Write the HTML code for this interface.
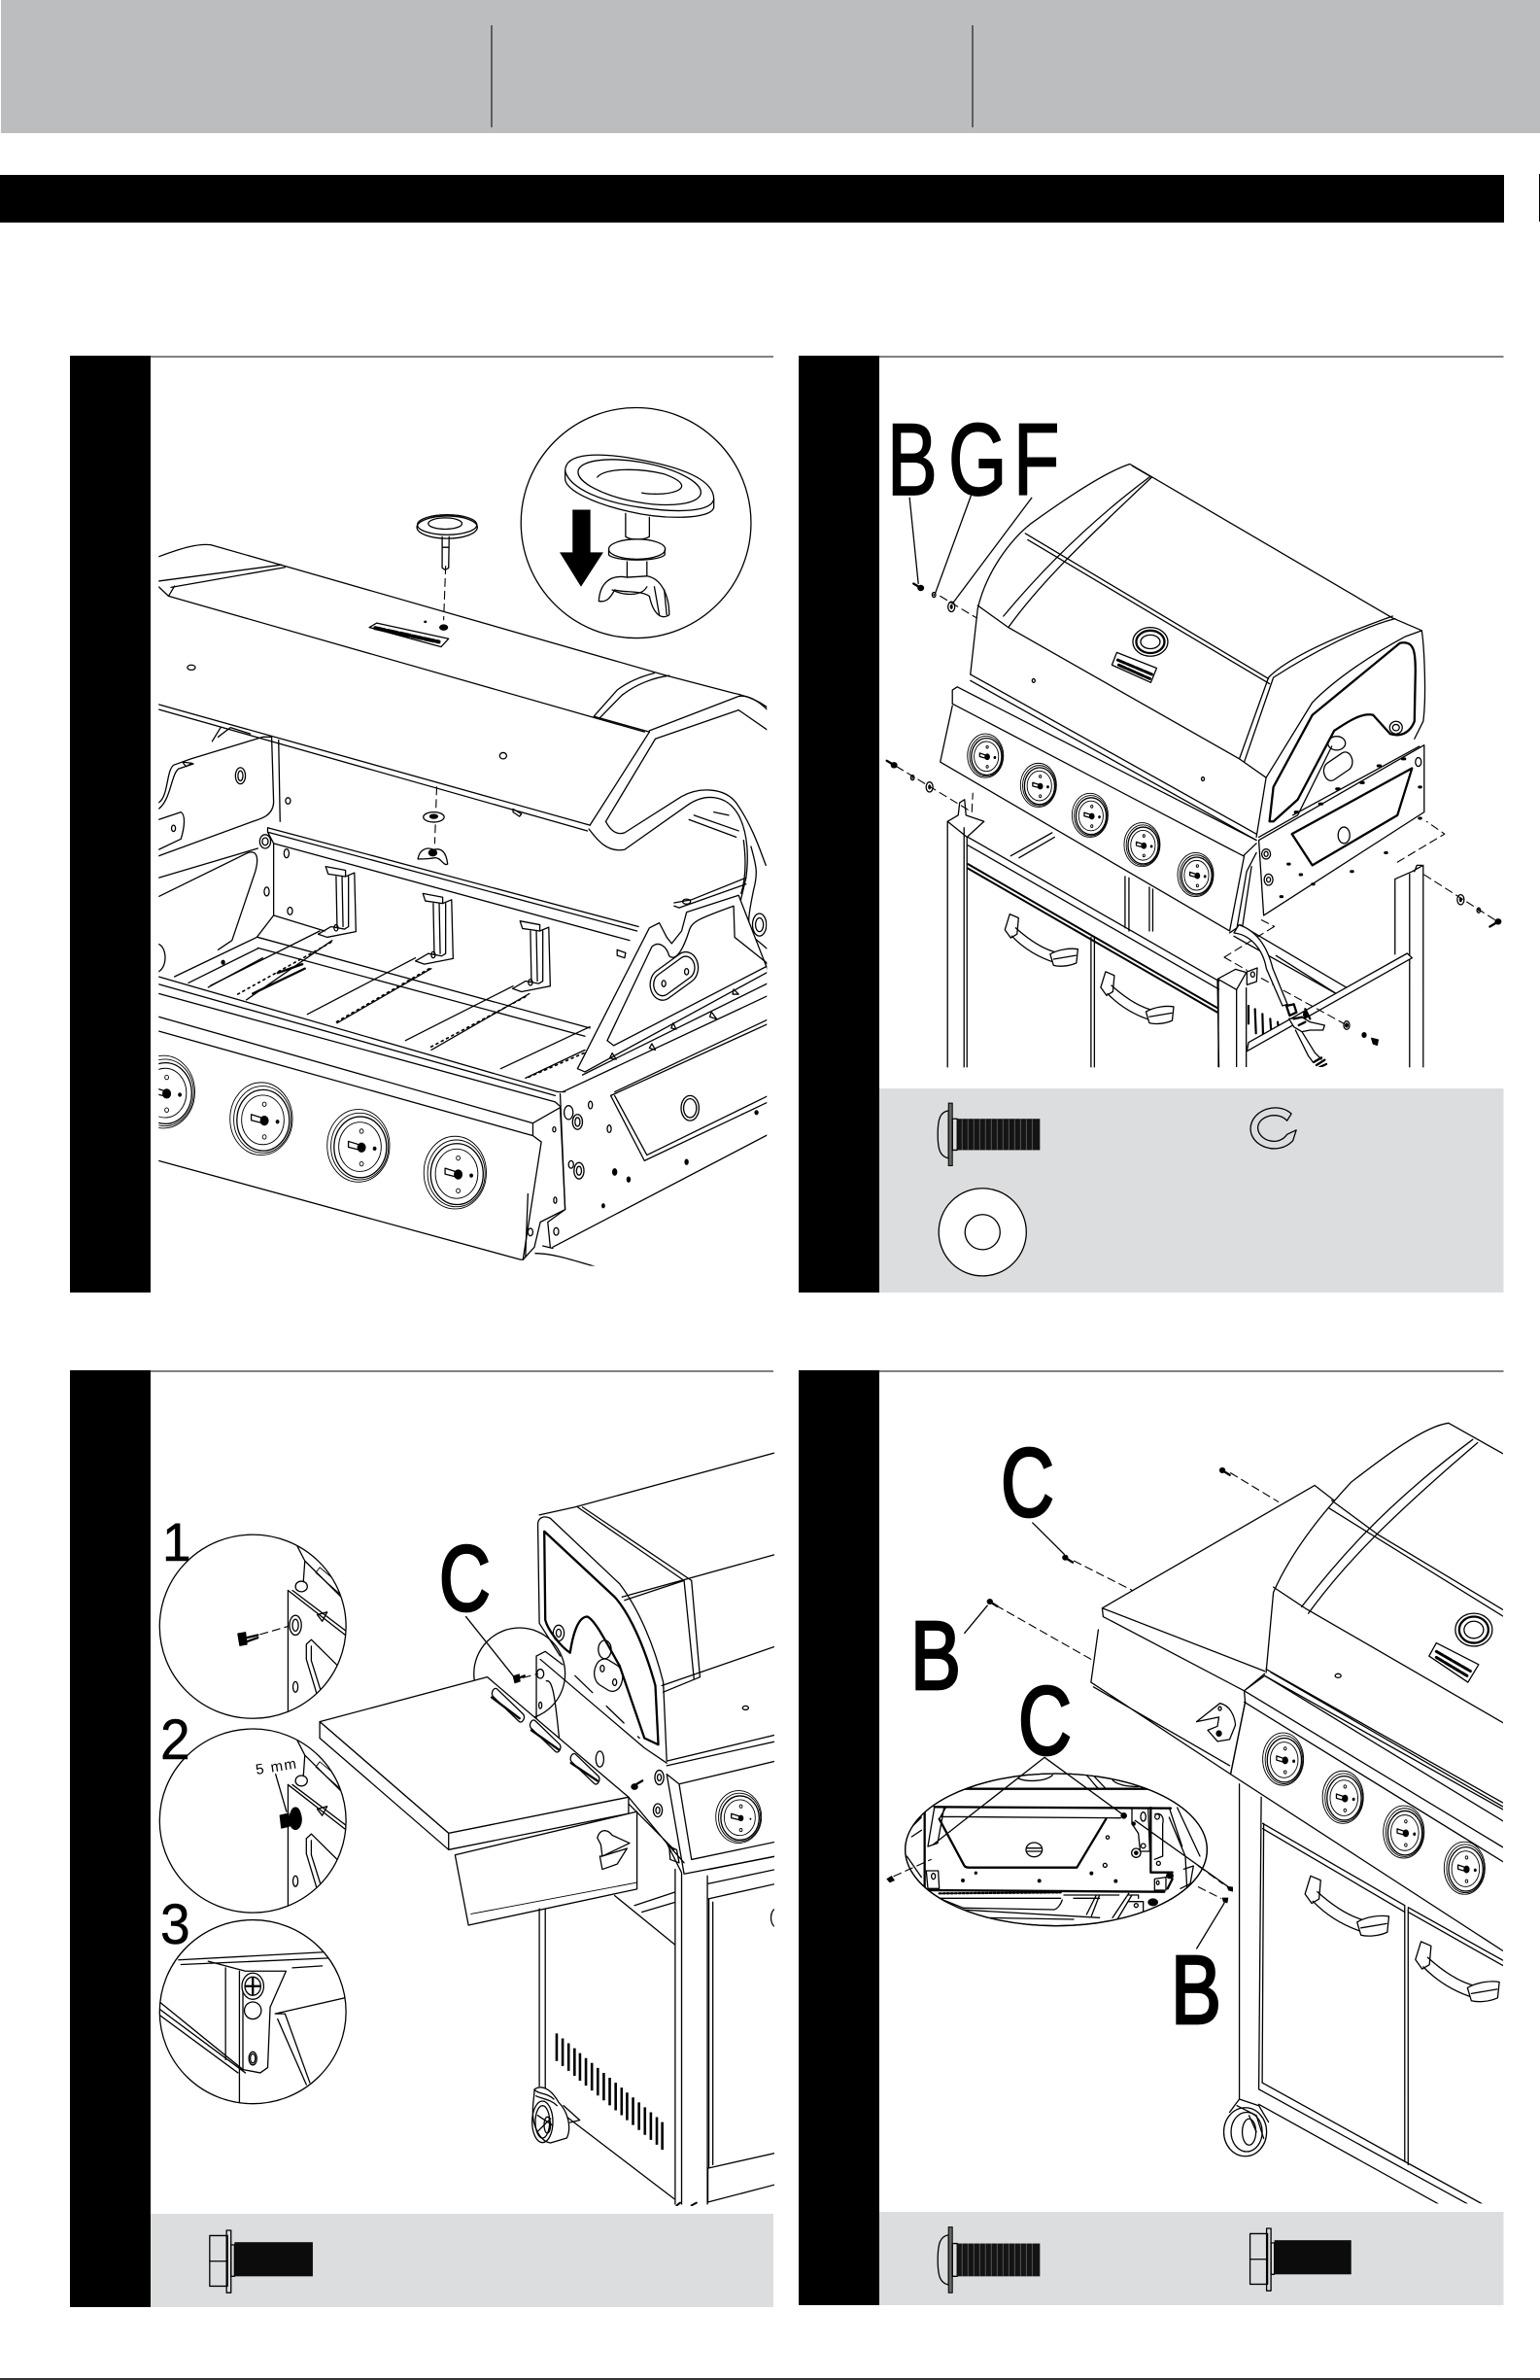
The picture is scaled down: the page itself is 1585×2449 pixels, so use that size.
<!DOCTYPE html>
<html><head><meta charset="utf-8"><title>Grill assembly diagram</title>
<style>
html,body{margin:0;padding:0;background:#fff}
svg{display:block}
svg *{vector-effect:non-scaling-stroke}
.l{fill:none;stroke:#000;stroke-width:1.3;stroke-linejoin:round;stroke-linecap:round}
.t{stroke-width:.9}
.h{stroke-width:2.3}
.d{stroke-dasharray:8 5;stroke-width:1.1}
.w{fill:#fff}
.k{fill:#000}
text{font-family:"Liberation Sans",sans-serif;fill:#000;stroke:#000}
text.n{stroke:none}
</style></head><body>
<svg xmlns="http://www.w3.org/2000/svg" width="1585" height="2449" viewBox="0 0 1585 2449">
<defs>
<g id="knob">
<ellipse class="l w t" cx="0" cy="0" rx="100" ry="100"/>
<ellipse class="l t" cx="4" cy="2" rx="92" ry="92"/>
<ellipse class="l" cx="6" cy="4" rx="84" ry="84"/>
<ellipse class="l t" cx="5" cy="3" rx="68" ry="68"/>
<circle class="k" cx="10" cy="5" r="12"/>
<path class="l" d="M-32 -12 L5 -2 L5 12 L-32 4 Z"/>
<ellipse class="l t" cx="10" cy="-40" rx="6" ry="6"/><ellipse class="l t" cx="10" cy="50" rx="6" ry="6"/><ellipse class="k" cx="52" cy="8" rx="4" ry="4"/>
</g>
<g id="bracket" class="l">
<path d="M657 872 L697 878 L697 888 L662 884 Z"/>
<path d="M678 888 L680 968 M690 888 L692 968 M697 888 L715 882 L718 976 L660 985 L642 980 L668 968 L695 972 L703 968 L703 888"/>
<ellipse cx="678" cy="970" rx="4" ry="5"/>
</g>
<g id="sc"><ellipse class="k" cx="0" cy="0" rx="7" ry="5"/><path class="l h" d="M4 2 L17 8"/></g>
<g id="scr"><ellipse class="k" cx="0" cy="0" rx="7" ry="5"/><path class="l h" d="M-4 -2 L-15 -7"/></g>
<g id="wsh"><ellipse class="l" cx="0" cy="0" rx="7" ry="8"/><ellipse class="k" cx="0" cy="0" rx="3" ry="4"/></g>
<g id="pan">
<path class="l" d="M22 12 C5 14 0 25 0 50 C0 75 5 85 22 88 Z"/>
<rect x="22" y="0" width="8" height="100" fill="#666" stroke="#000"/>
<rect x="30" y="25" width="10" height="50" class="l"/>
<rect x="40" y="25" width="170" height="50" fill="#141414"/>
<path d="M50 25V75M62 25V75M74 25V75M86 25V75M98 25V75M110 25V75M122 25V75M134 25V75M146 25V75M158 25V75M170 25V75M182 25V75M194 25V75" stroke="#666" stroke-width=".8" fill="none"/>
</g>
<g id="hex">
<rect x="0" y="8" width="36" height="77" class="l"/>
<path class="l" d="M0 47H36"/>
<rect x="34" y="0" width="9" height="95" class="l" fill="#dcddde"/>
<rect x="43" y="22" width="7" height="48" class="l"/>
<rect x="50" y="18" width="158" height="52" fill="#0c0c0c"/>
</g>
<g id="handle" class="l">
<path class="w" d="M0 25 L10 0 L28 6 L25 32 L12 38 Z"/>
<path d="M14 35 C45 60 80 72 105 78 M22 22 C55 45 85 58 110 62"/>
<path class="w" d="M93 64 C110 56 135 54 150 56 L147 78 C130 84 110 84 100 82 Z"/>
<path d="M100 72 L146 66"/>
</g>
<g id="insetC">
<path class="l" d="M581 365 L581 565"/>
<path class="l" d="M581 365 L700 435 M590 365 L700 428"/>
<path class="l" d="M600 298 L615 320 L695 380 M615 320 L612 352"/>
<path class="l t" d="M637 338 L688 372 L680 352 L645 330 Z"/>
<ellipse class="l" cx="608" cy="359" rx="12" ry="8"/>
<ellipse class="l" cx="596" cy="418" rx="12" ry="15"/><ellipse class="l" cx="596" cy="418" rx="6" ry="9"/>
<ellipse class="l" cx="596" cy="512" rx="5" ry="8"/>
<path class="l" d="M640 402 L660 398 L650 412 Z"/>
<path class="l" d="M618 447 L628 440 L695 490 M618 447 L618 470 L640 525 M628 450 L628 472 L648 520"/>
</g>
<clipPath id="ci1"><ellipse cx="510" cy="420" rx="188" ry="140"/></clipPath>
<clipPath id="ci2"><ellipse cx="510" cy="716" rx="188" ry="140"/></clipPath>
<clipPath id="ci3"><ellipse cx="510" cy="1007" rx="188" ry="140"/></clipPath>
<clipPath id="ca"><rect x="320" y="100" width="1227" height="1410"/></clipPath>
<clipPath id="cb"><rect x="200" y="100" width="1300" height="1093"/></clipPath>
<clipPath id="cc"><rect x="200" y="100" width="1362" height="1203"/></clipPath>
<clipPath id="cd"><rect x="200" y="100" width="1292" height="1199"/></clipPath>
<clipPath id="cdi"><ellipse cx="546" cy="280" rx="466" ry="235"/></clipPath>
<clipPath id="chose"><rect x="0" y="0" width="800" height="534"/></clipPath>
</defs>

<rect width="1585" height="2449" fill="#fff"/>
<!-- header -->
<rect x="1" y="0" width="1584" height="137" fill="#bcbdbf"/>
<rect x="505.500" y="26" width="1" height="105" fill="#000"/>
<rect x="1000.500" y="26" width="1" height="105" fill="#000"/>
<rect x="0" y="180" width="1548" height="49" fill="#000"/>
<rect x="1584" y="179" width="1" height="49" fill="#000"/>
<rect x="0" y="2447" width="1585" height="2" fill="#333"/>

<!-- frames -->
<rect x="72" y="366" width="83" height="964" fill="#000"/>
<rect x="155" y="366.500" width="641" height="1" fill="#000"/>
<rect x="822" y="366" width="83" height="964" fill="#000"/>
<rect x="905" y="366.500" width="642.500" height="1" fill="#000"/>
<rect x="905" y="1120" width="642.500" height="210" fill="#dcddde"/>
<rect x="72" y="1410" width="83" height="964" fill="#000"/>
<rect x="155" y="1410.500" width="641" height="1" fill="#000"/>
<rect x="155" y="2278" width="641" height="96" fill="#dcddde"/>
<rect x="822" y="1410" width="83" height="962" fill="#000"/>
<rect x="905" y="1410.500" width="642.500" height="1" fill="#000"/>
<rect x="905" y="2276" width="642.500" height="96" fill="#dcddde"/>

<!-- PANEL A -->
<g transform="translate(0,330) scale(.5102,.6441)">
<g clip-path="url(#ca)">
<g class="l">
<path d="M320 377 C370 362 400 356 425 358 L575 392 L1345 567 L1480 595 C1510 600 1530 607 1552 620"/>
<path d="M320 416 L568 390 M345 426 L575 394"/>
<path d="M320 425 L340 440 L1300 657 M340 440 L352 424"/>
<path d="M1198 632 L1245 590 C1270 575 1295 568 1320 563 M1208 636 L1255 598 C1285 580 1320 570 1350 567 M1198 632 L1310 657"/>
<path d="M320 613 L1190 806 M320 621 L1185 815"/>
<path d="M1310 657 L1190 806"/>
<path d="M1310 655 L1490 600 C1510 597 1535 610 1552 625"/>
<path d="M1222 800 L1322 668 L1490 622 L1550 655"/>
<path d="M1222 800 C1232 815 1245 822 1260 818 L1375 760 C1410 745 1460 745 1485 770 C1520 810 1535 850 1545 870"/>
<path d="M1188 812 C1205 830 1225 850 1260 845 L1385 775 C1420 755 1465 755 1490 790 C1510 820 1510 860 1505 890 L1490 940 C1485 965 1500 985 1550 1030"/>
<path d="M1400 790 L1490 815 M1390 797 L1485 825 M1440 785 L1470 790"/>
<path d="M1500 830 C1505 860 1505 890 1495 915 M1515 840 C1525 870 1530 880 1520 910 C1510 950 1505 965 1520 985 L1550 1005"/>
<ellipse cx="1532" cy="965" rx="14" ry="18"/><ellipse cx="1532" cy="965" rx="8" ry="11"/>
<ellipse cx="386" cy="554" rx="8" ry="4"/><ellipse cx="1015" cy="695" rx="7" ry="5"/>
<path d="M1035 780 L1052 788 L1048 792 L1035 785Z"/>
<ellipse class="w" cx="902" cy="330" rx="61" ry="18"/>
<ellipse cx="902" cy="326" rx="60" ry="16"/>
<ellipse cx="898" cy="324" rx="34" ry="9"/>
<path d="M892 345 L892 395 L898 398 L905 395 L906 345 M892 362 L906 362"/>
<path class="d" d="M899 392 L895 478"/>
<path class="d" d="M881 745 L877 835"/>
<ellipse class="w" cx="875" cy="793" rx="21" ry="8"/><ellipse class="k" cx="875" cy="792" rx="8" ry="3"/>
<path class="w" d="M843 860 C846 845 860 840 875 845 C890 842 900 848 903 868 C895 872 890 858 878 858 C865 860 850 860 843 860Z"/>
<ellipse class="k" cx="873" cy="850" rx="8" ry="5"/>
<path d="M745 490 L760 483 L905 508 L890 521 Z"/>
<path d="M757 491 L885 513" stroke-width="4" stroke-dasharray="10 3"/>
<ellipse cx="1283" cy="323" rx="232" ry="184"/>
<path class="w" d="M1140 240 C1140 210 1210 210 1290 222 C1380 235 1440 255 1440 285 L1440 298 C1435 318 1340 318 1270 305 C1195 292 1140 270 1140 252 Z"/>
<path d="M1140 240 C1150 270 1220 290 1290 298 C1370 308 1435 305 1440 285"/>
<ellipse cx="1290" cy="258" rx="125" ry="32" transform="rotate(8 1290 258)"/>
<path d="M1205 250 C1220 235 1290 235 1340 245 C1375 255 1385 265 1365 272 C1340 280 1300 276 1295 275"/>
<path class="w" d="M1262 308 L1262 345 C1275 352 1300 350 1310 345 L1310 314"/>
<ellipse class="w" cx="1285" cy="365" rx="57" ry="16"/><path d="M1228 366 L1228 374 C1240 385 1330 385 1341 374 L1341 366"/>
<path class="w" d="M1265 385 L1265 410 L1305 410 L1305 385"/>
<path class="w" d="M1208 448 C1210 420 1230 405 1265 410 L1305 408 C1335 412 1350 440 1350 470 C1335 478 1318 470 1310 440 C1290 430 1260 435 1240 430 C1230 445 1222 450 1208 448Z"/>
<path d="M1320 425 L1330 470 M1340 430 L1345 470 M1235 430 C1260 440 1295 440 1305 425"/>
<path d="M320 770 C340 760 335 720 350 710 L385 700 L530 665 L548 665 L552 770 C550 790 530 795 510 800 L320 855"/>
<path d="M320 780 C345 765 345 725 360 716 L390 708"/>
<path d="M428 672 L445 650 M440 665 L465 650 L505 660"/>
<path d="M368 705 L388 707 L375 712 Z"/>
<ellipse cx="485" cy="727" rx="10" ry="13"/><ellipse cx="485" cy="727" rx="5" ry="8"/>
<path d="M320 797 L365 785 C375 790 372 810 365 828 L320 845"/>
<ellipse cx="350" cy="811" rx="4" ry="5"/>
<path d="M320 890 L520 843 M320 920 L500 850 C520 845 522 860 515 880 L468 990 L440 1005"/>
<path d="M320 996 C335 1000 340 1030 320 1040"/>
<path d="M562 670 L565 800"/>
<circle cx="535" cy="832" r="11"/><circle cx="535" cy="832" r="6"/>
<ellipse cx="581" cy="767" rx="5" ry="5"/>
<path d="M540 810 L1288 968 M540 817 L1285 975 M552 835 L1270 990 M540 810 L540 817 L552 835"/>
<path d="M552 835 L552 950 L518 985 L352 1048 M552 950 L655 975"/>
<path d="M380 1058 L520 1003 M420 1065 L530 1018"/>
<ellipse cx="578" cy="851" rx="5" ry="7"/><ellipse cx="538" cy="912" rx="5" ry="7"/><ellipse cx="585" cy="943" rx="5" ry="6"/>
<ellipse class="k" cx="450" cy="1025" rx="3" ry="3"/>
<path d="M520 985 L1190 1130 M520 1002 L1180 1143"/>
<path class="h" d="M560 1042 L610 1028 M510 1075 L615 1035"/>
<path d="M645 975 L425 1062 M670 990 L497 1085"/>
<path d="M838 1018 L620 1108 M870 1035 L680 1122"/>
<path d="M1035 1063 L818 1150 M1068 1075 L870 1165"/>
<path d="M1190 1128 L1010 1195 M1180 1165 L1060 1210"/>
<path d="M668 993 L475 1078 M866 1035 L675 1122 M1060 1080 L865 1162 M1178 1170 L1062 1210" stroke-dasharray="2 4" stroke-width="1.6"/>
<use href="#bracket"/>
<use href="#bracket" transform="translate(196,43)"/>
<use href="#bracket" transform="translate(392,87)"/>
<path d="M1245 1005 L1262 1010 L1260 1018 L1245 1014 Z"/>
<path class="w" d="M1165 1195 L1310 970 L1330 962 L1345 985 L1355 995 L1375 975 L1385 945 L1490 918 L1550 1040 L1180 1200 Z"/>
<path d="M1225 1150 L1315 1000 C1330 990 1345 1000 1350 1015 C1365 1025 1380 1000 1390 975 C1395 960 1410 955 1480 935 L1482 985 L1550 1028"/>
<path d="M1225 1150 L1238 1158 L1550 1030"/>
<path d="M1360 930 L1395 925 L1505 890 M1360 935 L1370 938 L1505 900"/>
<ellipse cx="1385" cy="928" rx="8" ry="4"/>
<g transform="rotate(-30 1360 1047)"><rect x="1308" y="1022" width="104" height="50" rx="25" ry="25"/><rect x="1315" y="1029" width="90" height="36" rx="18" ry="18"/></g>
<ellipse cx="1339" cy="1059" rx="4" ry="5"/><ellipse cx="1385" cy="1040" rx="4" ry="5"/>
<path d="M1175 1205 L1550 1058 M1315 1155 L1322 1165 L1310 1162 Z M1358 1122 L1364 1132 L1354 1130Z M1435 1104 L1446 1116 L1432 1112 Z M1480 1068 L1490 1076 L1478 1076Z M1235 1170 L1243 1180 L1230 1178Z"/>
<path d="M1135 1232 L1550 1078"/>
<path d="M1232 1238 L1550 1123 M1240 1232 L1550 1116"/>
<path d="M1232 1238 L1300 1342 L1550 1248 M1240 1238 L1305 1333 L1550 1238"/>
<ellipse cx="1392" cy="1258" rx="18" ry="20"/><ellipse cx="1392" cy="1258" rx="13" ry="15"/>
<path d="M1115 1480 L1550 1300"/>
<path d="M1130 1235 L1140 1420 L1105 1440 L1110 1480"/>
<ellipse cx="1147" cy="1265" rx="9" ry="11"/><ellipse cx="1165" cy="1280" rx="10" ry="12"/><ellipse cx="1165" cy="1280" rx="5" ry="7"/>
<ellipse cx="1168" cy="1358" rx="10" ry="13"/><ellipse cx="1168" cy="1358" rx="5" ry="7"/>
<ellipse cx="1152" cy="1348" rx="5" ry="6"/><ellipse cx="1191" cy="1253" rx="4" ry="6"/><ellipse cx="1229" cy="1291" rx="4" ry="6"/>
<ellipse class="k" cx="1240" cy="1360" rx="4" ry="5"/><ellipse class="k" cx="1268" cy="1372" rx="3" ry="4"/><ellipse class="k" cx="1217" cy="1414" rx="2.500" ry="3"/>
<ellipse class="k" cx="1385" cy="1344" rx="3" ry="4"/><ellipse class="k" cx="1526" cy="1265" rx="3" ry="3"/>
<path d="M320 1048 L1125 1232 L1140 1232 M320 1060 L1120 1238 M320 1075 L1120 1248 L1130 1255"/>
<path d="M320 1112 L1075 1282 L1130 1257 M320 1135 L1075 1302 L1092 1312 L1055 1500 M1075 1282 L1075 1302"/>
<path d="M320 1342 L1050 1500 L1055 1500"/>
<path d="M1130 1257 L1140 1420 L1090 1440 L1078 1480 L1055 1500"/>
<path d="M1065 1395 L1060 1495"/>
<ellipse cx="1118" cy="1292" rx="3" ry="4"/><ellipse cx="1120" cy="1405" rx="3" ry="5"/><ellipse cx="1070" cy="1456" rx="5" ry="6"/><ellipse cx="1122" cy="1455" rx="5" ry="6"/>
<path d="M1080 1490 C1120 1490 1170 1505 1205 1512 M1095 1478 L1115 1482"/>
<use href="#knob" transform="translate(330,1232) scale(.63,.58)"/>
<use href="#knob" transform="translate(527,1275) scale(.63,.58)"/>
<use href="#knob" transform="translate(723,1318) scale(.63,.58)"/>
<use href="#knob" transform="translate(918,1361) scale(.63,.58)"/>
</g>
<path d="M1155 302 H1191 V370 H1217 L1172 425 L1129 370 H1155 Z" fill="#000"/>
<ellipse cx="895" cy="490" rx="9" ry="5" fill="#000"/><ellipse cx="858" cy="481" rx="3" ry="2" fill="#000"/>
</g>
</g>

<!-- PANEL B -->
<g transform="translate(800,330) scale(.5006,.6441)">
<g clip-path="url(#cb)">
<g class="l">
<path d="M397 565 L412 460 C430 400 480 350 520 325 C600 280 680 240 725 229 L1265 475 L1325 495 C1330 520 1335 600 1328 640 L1310 668"/>
<path d="M510 340 L1010 572 M515 350 L1012 580"/>
<path d="M465 472 C510 430 610 340 765 250 M475 490 C540 420 620 360 770 250 M730 232 L770 250"/>
<path d="M412 455 L475 490 L950 700 L1005 730"/>
<path d="M950 700 L1010 570 C1060 530 1200 490 1265 472 M960 705 L1020 570 C1100 530 1200 490 1270 476"/>
<path d="M397 565 L985 820 M397 575 L985 830"/>
<path d="M1005 730 L985 825"/>
<path d="M1005 730 L1100 610 C1150 570 1230 530 1290 505 L1325 495"/>
<path class="h" d="M1012 800 L1020 745 L1100 630 L1280 515 C1310 510 1312 530 1312 560 L1310 640 C1300 660 1280 665 1260 660 L1225 630 C1200 625 1165 645 1145 655 L1070 765 L1020 800 Z"/>
<path d="M990 825 L1070 790 L1140 680"/>
<ellipse cx="767" cy="513" rx="36" ry="23"/><ellipse class="h" cx="767" cy="513" rx="29" ry="18"/><ellipse cx="767" cy="513" rx="20" ry="11"/>
<path class="w" d="M698 530 L780 555 L768 578 L688 550 Z"/>
<path d="M700 542 L770 565 M702 550 L766 572" stroke-width="3" stroke-dasharray="8 2"/>
<ellipse cx="527" cy="575" rx="3" ry="3"/><ellipse cx="875" cy="732" rx="3" ry="3"/>
<ellipse cx="1272" cy="650" rx="13" ry="10"/><ellipse cx="1272" cy="650" rx="7" ry="5"/>
<ellipse cx="1150" cy="675" rx="18" ry="11"/>
<g transform="rotate(-28 1153 712)"><rect x="1122" y="697" width="62" height="30" rx="14"/></g>
<path d="M990 830 L1330 678 L1330 785 L1000 950 L990 830"/>
<path d="M1060 790 L1320 680"/>
<path class="h" d="M1058 820 L1305 715 L1275 790 L1100 870 Z"/>
<ellipse class="w" cx="1165" cy="822" rx="12" ry="13"/>
<ellipse cx="1318" cy="705" rx="6" ry="7"/><ellipse cx="1005" cy="852" rx="9" ry="8"/><ellipse cx="1005" cy="852" rx="4" ry="4"/><ellipse cx="1010" cy="893" rx="9" ry="9"/><ellipse cx="1010" cy="893" rx="4" ry="4"/>
<path d="M1065 785 h5 M1150 748 h5 M1235 711 h5 M1115 772 h5 M1200 738 h5 M1285 700 h5" stroke-width="3"/>
<path d="M1035 920 h3 M1050 868 h3 M1075 885 h3 M1100 900 h3 M1180 880 h3 M1250 850 h3 M1320 795 h3 M1320 745 h3" stroke-width="3"/>
<path d="M360 590 L370 585 L985 830 M360 590 L360 612 L958 855 L985 835"/>
<path d="M360 615 L335 705 L930 975 L960 855"/>
<path d="M985 850 L965 880 L945 970 L930 978"/>
<path d="M975 872 L955 975"/>
<use href="#knob" transform="translate(428,695) scale(.37,.35)"/>
<use href="#knob" transform="translate(537,742) scale(.37,.35)"/>
<use href="#knob" transform="translate(643,790) scale(.37,.35)"/>
<use href="#knob" transform="translate(750,837) scale(.37,.35)"/>
<use href="#knob" transform="translate(860,885) scale(.37,.35)"/>
<path d="M350 800 L372 790 L375 770 L385 765 L388 790 L425 800 L390 825 L350 800"/>
<path d="M350 800 L350 1193 M390 825 L390 1193 M384 810 L384 1193"/>
<path d="M392 825 L908 1055 M392 838 L908 1068"/>
<path d="M392 868 L905 1098 M392 875 L905 1105" stroke-width="2"/>
<path d="M645 985 L645 1193 M652 985 L652 1193 M905 1055 L908 1193"/>
<path d="M480 855 L565 818 M497 858 L570 825"/>
<path d="M715 888 L715 970 M723 890 L723 975 M765 905 L765 975 M772 908 L772 975"/>
<path d="M1270 892 L1305 880 L1328 870 L1328 1193 M1270 892 L1270 1012 M1300 884 L1300 1193 M1310 880 L1315 870 L1325 870"/>
<use href="#handle" transform="translate(468,948)"/>
<use href="#handle" transform="translate(665,1040)"/>
<path class="d" d="M335 440 L410 475"/>
<path class="d" d="M245 712 L400 785 L402 755"/>
<path class="d" d="M1275 865 L1372 820 L1335 800"/>
<path class="d" d="M1330 885 L1475 957"/>
<path d="M272 283 L290 420 M398 280 L325 435 M523 283 L362 450"/>
</g>
<use href="#scr" transform="translate(295,427)"/><use href="#wsh" transform="translate(322,438) scale(.5)"/><use href="#wsh" transform="translate(358,457)"/>
<use href="#scr" transform="translate(240,710)"/><use href="#wsh" transform="translate(278,730) scale(.5)"/><use href="#wsh" transform="translate(313,745)"/>
<use href="#wsh" transform="translate(1405,925)"/><use href="#wsh" transform="translate(1442,942) scale(.5)"/><use href="#sc" transform="translate(1482,960) scale(-1,1)"/>
</g>
<use href="#pan" transform="translate(330,1250)"/>
<path class="l" d="M1057 1267 C1030 1247 975 1260 973 1290 C972 1320 1030 1335 1060 1310 L1067 1293 L1048 1300 C1030 1320 990 1310 988 1290 C988 1270 1030 1262 1048 1278 Z"/>
<ellipse class="l w" cx="422" cy="1456" rx="90" ry="70"/>
<ellipse class="l" cx="422" cy="1456" rx="36" ry="28" fill="#dcddde"/>
</g>
<!-- hose area, panel B -->
<g transform="translate(1200,920) scale(.33333)">
<g clip-path="url(#chose)"><g class="l">
<path class="w" d="M160 262 L215 232 L248 242 L218 295 Z"/>
<path class="w" d="M250 240 L282 228 L280 270 L250 280 Z"/><ellipse cx="268" cy="248" rx="6" ry="8"/>
<path d="M162 265 L162 534 M218 295 L218 534 M248 290 L248 534"/>
<path stroke-width="2.200" d="M255 345 L255 400 M275 355 L278 430 M298 370 L300 440 M322 385 L325 425 M345 395 L348 415"/>
<path d="M230 95 L560 290 M210 130 L530 310 M340 190 L530 310"/>
<path class="w" d="M250 485 L760 197 L745 183 L255 458 Z"/>
<path class="d" d="M180 195 L335 100 M295 80 L335 100 M180 195 L250 235 M295 260 L550 400"/>
<path class="w" d="M225 95 C270 110 310 150 330 230 L375 340 L360 345 L310 230 C300 170 260 125 210 120 Z"/>
<path class="w h" d="M372 345 L395 340 L403 365 L382 375 Z"/>
<path class="w" d="M380 385 L420 380 L445 395 L490 405 L485 420 L445 420 L420 425 L395 410 Z"/>
<path class="h" d="M395 385 L420 380 M410 405 L430 395 M430 355 L445 385"/>
<ellipse class="k" cx="430" cy="372" rx="5" ry="10"/>
<path d="M400 420 L440 500 L455 520 M420 425 L460 490 L480 510"/>
<path class="h" d="M458 518 L480 505 M465 528 L490 512 M475 534 L495 525"/>
<ellipse cx="558" cy="405" rx="9" ry="13"/><ellipse class="k" cx="558" cy="405" rx="4" ry="6"/>
<ellipse class="k" cx="612" cy="435" rx="6" ry="7"/>
<path class="k" d="M635 445 L655 450 L652 466 L640 462 Z"/>
</g></g>
</g>
<text transform="translate(913,509) scale(.74,1)" font-size="105" stroke-width="1.5">B</text>
<text transform="translate(976,509) scale(.74,1)" font-size="105" stroke-width="1.5">G</text>
<text transform="translate(1043,509) scale(.74,1)" font-size="105" stroke-width="1.5">F</text>

<!-- PANEL C -->
<g transform="translate(0,1390) scale(.5102,.6754)">
<g class="l">
<g clip-path="url(#ci1)"><use href="#insetC"/></g>
<ellipse cx="510" cy="420" rx="188" ry="140"/>
<path class="d" d="M525 432 L580 420"/>
<path class="k" d="M480 431 L495 429 L498 447 L484 449 Z"/>
<path class="h" d="M498 437 L520 433 M498 443 L520 437"/>
<g clip-path="url(#ci2)"><use href="#insetC" transform="translate(0,296)"/></g>
<ellipse cx="510" cy="716" rx="188" ry="140"/>
<path class="k" d="M565 708 L582 705 L584 724 L568 727 Z"/>
<ellipse cx="596" cy="712" rx="11" ry="16" class="k"/>
<path d="M556 645 L578 702"/>
<g clip-path="url(#ci3)">
<path d="M360 928 L680 915 M365 935 L670 925 M590 940 L650 937"/>
<path d="M420 930 L495 945 L577 945 L545 1000 L540 1092 L525 1100 L490 1095 L322 992"/>
<path d="M455 940 L455 1080 M483 945 L483 1150 M490 960 L490 1095"/>
<path d="M322 1003 L495 1100 M322 1012 L480 1100"/>
<path d="M555 1010 L575 1010 L625 1115 M560 1018 L618 1118 M555 1010 L700 985"/>
<ellipse cx="510" cy="1005" rx="17" ry="13"/><ellipse cx="510" cy="1078" rx="8" ry="10"/><ellipse cx="510" cy="1078" rx="5" ry="7"/>
<ellipse class="w" cx="510" cy="968" rx="22" ry="20"/><ellipse cx="510" cy="968" rx="16" ry="14"/>
<path class="h" d="M496 968 H524 M510 955 V981"/>
</g>
<ellipse cx="510" cy="1007" rx="188" ry="140"/>
</g>
<g clip-path="url(#cc)"><g class="l">
<path d="M940 405 L1035 495"/>
<ellipse cx="1048" cy="492" rx="92" ry="70"/>
<path class="d" d="M1055 498 L1085 492"/>
<path d="M1088 250 L1160 238 L1565 155 M1085 265 C1085 255 1095 250 1110 255 L1250 355 C1290 395 1320 450 1338 505 L1345 625"/>
<path d="M1085 265 L1088 415 L1130 465"/>
<path class="h" d="M1098 275 L1240 375 C1270 400 1300 450 1322 510 L1328 600 L1300 590 L1250 480 C1220 440 1200 410 1185 405 C1165 405 1155 435 1150 460 C1130 450 1105 425 1100 410 Z"/>
<path d="M1165 238 L1380 350 M1175 238 L1395 350 M1255 375 L1565 310 M1260 380 L1380 350"/>
<path d="M1380 350 L1400 500 M1395 350 L1412 497"/>
<path d="M1335 510 L1565 450 M1338 520 L1412 497"/>
<path d="M1345 625 L1565 585 M1345 632 L1565 595"/>
<ellipse cx="1127" cy="430" rx="11" ry="12"/><ellipse cx="1127" cy="430" rx="5" ry="6"/>
<ellipse cx="1220" cy="455" rx="13" ry="14"/>
<g transform="rotate(25 1227 495)"><rect x="1198" y="473" width="58" height="42" rx="20"/></g>
<ellipse cx="1215" cy="484" rx="4" ry="5"/><ellipse cx="1240" cy="505" rx="4" ry="5"/>
<ellipse cx="1504" cy="544" rx="6" ry="3"/>
<path d="M1082 465 L1082 560 M1090 470 L1300 605 L1345 628"/>
<path d="M1082 465 L1100 458 L1135 478"/>
<path d="M1102 503 C1115 500 1120 530 1128 590"/>
<path d="M1268 680 L1345 750 L1380 780 M1268 690 L1360 760"/>
<path d="M1160 495 L1290 590" stroke-dasharray="25 20"/>
<ellipse cx="1210" cy="622" rx="8" ry="12"/><ellipse cx="1090" cy="492" rx="7" ry="7"/><ellipse cx="1090" cy="540" rx="3" ry="5"/>
<ellipse cx="1330" cy="650" rx="9" ry="11"/><ellipse cx="1327" cy="700" rx="9" ry="10"/><ellipse cx="1330" cy="650" rx="4" ry="5"/><ellipse cx="1327" cy="700" rx="4" ry="5"/>
<path class="w" d="M645 565 L983 497 L1268 680 L905 735 Z"/>
<path class="w" d="M645 565 L645 590 L905 760 L1268 705 L1268 680 L905 735 Z"/>
<path d="M905 735 L905 760"/>
<path class="w" d="M918 768 L1285 702 L1285 820 L945 875 Z"/>
<path class="t" d="M950 858 L1285 810"/>
<g transform="rotate(36 1025 540)"><rect x="987" y="533" width="76" height="14" rx="6"/></g>
<g transform="rotate(36 1100 587)"><rect x="1064" y="580" width="72" height="14" rx="6"/></g>
<g transform="rotate(36 1180 637)"><rect x="1146" y="630" width="68" height="14" rx="6"/></g>
<path class="h" d="M992 528 L1048 560 M1072 578 L1128 608 M1152 628 L1205 655"/>
<path class="w" d="M1205 742 C1210 728 1225 728 1235 738 L1270 750 L1215 770 L1212 752 Z"/>
<path class="w" d="M1210 770 L1215 790 L1245 782 L1265 758 L1215 770 Z"/>
<path class="h" d="M1275 664 L1296 655"/><ellipse class="k" cx="1280" cy="664" rx="6" ry="4"/>
<path d="M1088 850 L1088 1120 M1100 850 L1100 1130"/>
<path d="M1240 830 L1362 905 L1362 1300 M1280 845 L1360 825 M1295 855 L1362 840"/>
<path d="M1145 1168 L1360 1292"/>
<path d="M1375 795 L1375 1300 M1345 750 L1375 795 M1427 800 L1427 1300 M1362 790 L1362 905"/>
<path d="M1350 755 L1365 760 L1370 780 L1352 775 Z"/>
<path d="M1345 645 L1380 797 L1565 770 M1345 645 L1370 660 L1565 625 M1370 660 L1395 775 L1565 748"/>
<path d="M1430 790 L1565 770 M1428 812 L1565 790 M1428 835 L1565 812 M1430 835 L1430 1245 L1565 1222 M1428 1245 L1428 1297 L1565 1270 M1438 840 L1438 1240"/>
<path d="M1565 850 C1552 852 1552 875 1565 878"/>
<path d="M1365 1302 L1372 1298 M1395 1302 L1405 1298" stroke-width="2"/>
</g>
<g stroke="#000" stroke-width="2.600" fill="none">
<path d="M1123 1040v42M1135 1047.500v42M1147 1055v42M1159 1062.500v42M1170 1070v42M1182 1077.500v42M1194 1085v42M1206 1092.500v42M1218 1100v42M1230 1107.500v42M1242 1115v42M1254 1122.500v42M1265 1130v42M1277 1137.500v42M1289 1145v42M1301 1152.500v42M1313 1160v42M1325 1167.500v42M1336 1175v42"/>
</g>
<path class="k" d="M1034 495 L1048 492 L1050 504 L1038 507 Z"/><path class="l h" d="M1048 498 L1058 495"/>
<use href="#knob" transform="translate(1490,710) scale(.46,.4)"/>
</g>
<use href="#hex" transform="translate(423,1340)"/>
</g>
<!-- caster panel C -->
<g transform="translate(530,1990) scale(.33333)"><g class="l">
<path class="w" d="M60 480 C80 465 110 475 135 520 C165 550 175 600 160 630 L110 645 C75 640 55 590 55 550 C55 520 60 500 60 480Z"/>
<ellipse cx="85" cy="580" rx="32" ry="64"/><ellipse cx="85" cy="580" rx="22" ry="50"/><ellipse cx="100" cy="590" rx="10" ry="25"/>
<path d="M60 480 C70 495 100 490 120 510 M65 500 C85 510 110 510 130 530 M150 530 L200 575 L170 582 M70 560 L115 590 M70 610 L110 570"/>
</g></g>
<text transform="translate(452,1657) scale(.76,1)" font-size="96" stroke-width="2.500">C</text>
<text transform="translate(167,1606) scale(.95,1)" font-size="56" stroke-width=".5">1</text>
<text transform="translate(165,1810) scale(.95,1)" font-size="58" stroke-width=".5">2</text>
<text transform="translate(165,2000) scale(.95,1)" font-size="58" stroke-width=".5">3</text>
<text class="n" transform="translate(264,1826) rotate(-9)" font-size="15" letter-spacing="1.500">5 mm</text>

<!-- PANEL D -->
<g transform="translate(800,1390) scale(.5006,.6754)">
<g clip-path="url(#cd)"><g class="l">
<path d="M668 392 L1105 205 L1145 228 M668 392 L670 405 L960 518 L1002 492 M668 392 L1002 488"/>
<path d="M660 425 L645 505 L932 645 L962 535 L960 518 M650 512 L930 632"/>
<path class="w" d="M862 565 L910 537 C930 540 940 555 942 570 L930 592 L905 595 L885 578 L905 572 L908 558 Z"/>
<ellipse cx="910" cy="545" rx="3" ry="3"/><ellipse class="k" cx="908" cy="583" rx="5" ry="4"/>
<path d="M1005 490 L1020 368 C1060 300 1130 240 1180 200 C1250 160 1330 115 1380 110 L1500 160"/>
<path d="M1078 390 C1140 330 1240 240 1430 135 M1092 400 C1160 330 1250 260 1440 140"/>
<path d="M1140 228 L1235 280 L1500 398 M1135 240 L1500 408"/>
<path d="M1020 360 L1085 392 L1500 570"/>
<path d="M1005 485 L1500 692 M1002 495 L1500 702 M1015 490 L1500 698"/>
<ellipse cx="1432" cy="425" rx="38" ry="25"/><ellipse class="h" cx="1432" cy="425" rx="30" ry="20"/><ellipse cx="1432" cy="425" rx="20" ry="13"/>
<path class="w" d="M1355 445 L1442 478 L1420 505 L1340 465 Z"/>
<path d="M1355 458 L1425 488 M1355 467 L1418 495" stroke-width="3" stroke-dasharray="8 2"/>
<ellipse cx="1153" cy="495" rx="6" ry="3"/>
<path d="M965 515 L1002 495 L1500 720 M960 535 L1500 782 M960 518 L1500 760 M962 535 L932 645 L1500 918"/>
<use href="#knob" transform="translate(1040,622) scale(.42,.4)"/>
<use href="#knob" transform="translate(1163,680) scale(.42,.4)"/>
<use href="#knob" transform="translate(1288,733) scale(.42,.4)"/>
<use href="#knob" transform="translate(1413,788) scale(.42,.4)"/>
<path d="M950 660 L950 1140 M995 680 L990 1125 M998 720 L1290 845 M998 728 L1290 855 M1000 720 L997 1115"/>
<path d="M1290 845 L1290 1235 M1297 850 L1297 1240 M1297 848 L1500 932 M1297 855 L1500 940"/>
<path d="M997 1115 L1290 1235 L1450 1300 M990 1125 L1420 1300 M990 1148 L1360 1300"/>
<use href="#handle" transform="translate(1085,800) scale(1.15,1.1)"/>
<use href="#handle" transform="translate(1312,900) scale(1.15,1.1)"/>
<ellipse class="w" cx="962" cy="1190" rx="44" ry="37"/><ellipse cx="965" cy="1190" rx="32" ry="30"/><ellipse cx="970" cy="1190" rx="14" ry="20"/>
<path d="M930 1160 L950 1140 L990 1150 L1010 1175 M945 1150 L985 1165 L1000 1200 M970 1165 L985 1190"/>
<path class="d" d="M932 186 L1030 230"/>
<path class="d" d="M610 320 L730 365"/>
<path class="d" d="M450 388 L650 472"/>
<path d="M525 262 L590 310 M385 430 L432 388"/>
</g>
<use href="#sc" transform="translate(915,182) scale(.9)"/>
<use href="#sc" transform="translate(592,315) scale(.9)"/>
<use href="#sc" transform="translate(437,382) scale(.9)"/>
</g>
<use href="#pan" transform="translate(330,1335)"/>
<use href="#hex" transform="translate(972,1337)"/>
</g>
<!-- inset panel D -->
<g transform="translate(905,1810) scale(.33333)"><g class="l">
<ellipse class="w" cx="546" cy="280" rx="466" ry="235"/>
<g clip-path="url(#cdi)">
<path class="h" d="M240 92 L835 92 M170 148 L900 152 M145 405 L880 410"/>
<path class="h" d="M185 185 L260 325 C265 335 270 335 280 335 L610 335 L700 185"/>
<path d="M190 178 L745 182 M205 150 L185 185"/>
<ellipse cx="478" cy="280" rx="25" ry="22"/><path d="M455 275 H500 M455 285 H500"/>
<path d="M430 60 C450 70 510 72 535 50 M640 50 C660 70 670 90 680 92 M660 50 L700 92 M720 65 C740 85 800 90 815 80"/>
<path class="h" d="M140 165 L140 400"/>
<path d="M170 150 L150 270 L180 260 L200 150 M90 220 L130 180 M85 300 L130 365 M100 240 L130 220"/>
<path d="M145 345 L182 345 L185 400 L150 400 Z"/><ellipse cx="167" cy="362" rx="6" ry="9"/>
<path d="M185 415 L560 412" stroke-width="2.200" stroke-dasharray="2 2"/>
<path d="M185 430 L560 430 M185 430 L260 460 L540 465 C550 462 560 450 565 435 M250 465 L680 490 M330 490 L600 495"/>
<path d="M570 420 L740 420 M600 430 L680 430 M640 480 L670 420 M655 485 L680 420 M720 490 L770 415 M735 495 L780 420 M770 420 L800 420 L800 430 M770 440 L815 440 L815 500"/>
<path class="h" d="M838 150 L838 350 L905 350"/>
<path d="M852 170 C870 165 880 180 875 200 L875 300 L850 310 M895 150 L935 270 M920 150 L990 300 M895 180 L945 300 L950 400 M940 340 L970 330 L960 385 L930 400"/>
<ellipse cx="858" cy="178" rx="7" ry="8"/><ellipse cx="862" cy="322" rx="6" ry="6"/>
<path d="M780 150 L780 200 L800 230 L805 280 M830 150 L835 285 L805 285"/>
<ellipse cx="815" cy="178" rx="8" ry="14"/><ellipse cx="815" cy="268" rx="7" ry="7"/>
<ellipse cx="793" cy="290" rx="14" ry="14"/><circle class="k" cx="793" cy="290" r="5"/>
<circle class="k" cx="755" cy="175" r="8"/><circle class="k" cx="785" cy="200" r="5"/>
<circle class="k" cx="258" cy="375" r="4"/><circle class="k" cx="494" cy="376" r="4"/><circle class="k" cx="655" cy="353" r="4"/><circle class="k" cx="730" cy="377" r="4"/>
<circle cx="298" cy="352" r="3"/><circle cx="705" cy="242" r="5"/><circle cx="697" cy="328" r="6"/>
<path d="M850 370 L885 365 L885 405 L850 405 Z"/><ellipse cx="860" cy="382" rx="4" ry="6"/>
<ellipse class="k" cx="897" cy="360" rx="10" ry="8"/><path class="h" d="M905 370 L890 400"/>
<ellipse class="k" cx="845" cy="442" rx="14" ry="10"/><circle cx="793" cy="452" r="6"/>
</g>
<ellipse cx="546" cy="280" rx="466" ry="235"/>
<path d="M510 -5 L165 265 M510 -5 L750 170 M790 190 L1085 400"/>
<path class="d" d="M45 362 L160 310 M985 330 L1060 385 M985 395 L1055 430"/>
<path d="M1065 445 L980 585"/>
</g>
<path d="M22 370 L38 360 L48 375 L32 382 Z M1072 392 L1092 395 L1092 410 L1078 406 Z M1058 428 L1078 428 L1075 445 L1062 442 Z"/>
</g>
<text transform="translate(1030,1560) scale(.76,1)" font-size="100" stroke-width="2.500">C</text>
<text transform="translate(937,1738) scale(.78,1)" font-size="100" stroke-width="2.500">B</text>
<text transform="translate(1048,1805) scale(.76,1)" font-size="100" stroke-width="2.500">C</text>
<text transform="translate(1205,2082) scale(.78,1)" font-size="100" stroke-width="2.500">B</text>
</svg>
</body></html>
